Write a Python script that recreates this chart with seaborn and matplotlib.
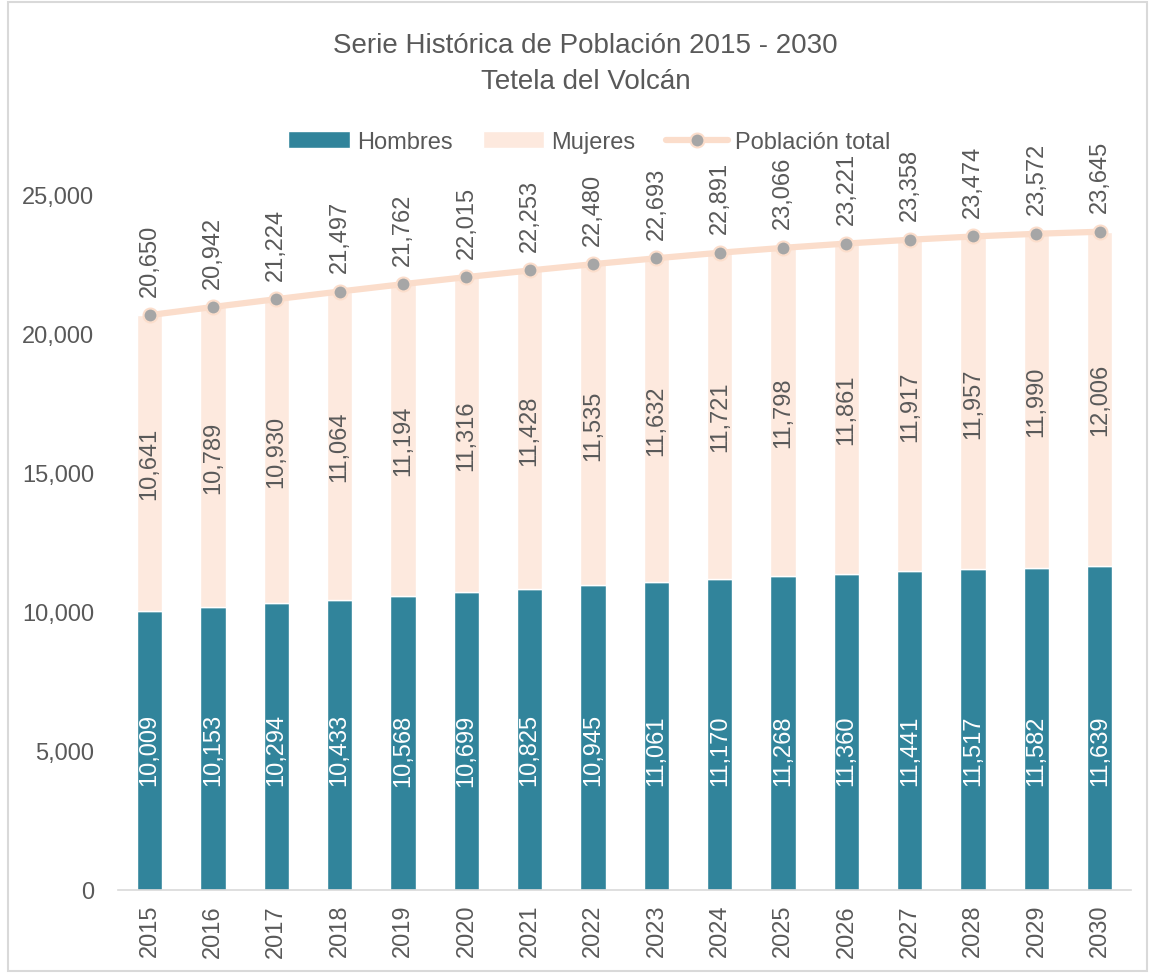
import matplotlib
matplotlib.use("Agg")
import matplotlib.pyplot as plt
import numpy as np
import pandas as pd
import seaborn as sns
from matplotlib.patches import Rectangle

# ─── Data ──────────────────────────────────────────────────────
years = [str(y) for y in range(2015, 2031)]
hombres = [10009, 10153, 10294, 10433, 10568, 10699, 10825, 10945,
           11061, 11170, 11268, 11360, 11441, 11517, 11582, 11639]
mujeres = [10641, 10789, 10930, 11064, 11194, 11316, 11428, 11535,
           11632, 11721, 11798, 11861, 11917, 11957, 11990, 12006]
total = [20650, 20942, 21224, 21497, 21762, 22015, 22253, 22480,
         22693, 22891, 23066, 23221, 23358, 23474, 23572, 23645]

TEAL = "#31849B"
PEACH = "#FDE9DE"
LINE = "#FBDDCB"
TXT = "#595959"

sns.set_theme(style="white")
plt.rcParams["font.family"] = ["Liberation Sans Narrow", "Liberation Sans", "DejaVu Sans"]

df = pd.DataFrame({"year": years, "Hombres": hombres, "Mujeres": mujeres, "total": total})

fig = plt.figure(figsize=(11.5, 9.79), dpi=100)
ax = fig.add_axes([0.1026, 0.0899, 0.8813, 0.7109])

sns.barplot(data=df, x="year", y="Hombres", color=TEAL, width=0.4,
            saturation=1, ax=ax, label="Hombres")
sns.barplot(data=df, x="year", y="Mujeres", color=PEACH, width=0.4,
            saturation=1, ax=ax, bottom=df["Hombres"], label="Mujeres")
xs = np.arange(len(years))
ax.plot(xs, total, color=LINE, lw=4.5, marker="o", markersize=10,
        markerfacecolor="#A6A6A6", markeredgecolor=LINE, markeredgewidth=1.5,
        label="Población total", clip_on=False, zorder=5)

# ─── Data labels ───────────────────────────────────────────────
for i in range(len(years)):
    ax.text(i, 5050, f"{hombres[i]:,}", rotation=90, ha="center", va="center",
            color="white", fontsize=17)
    ax.text(i, hombres[i] + mujeres[i] / 2, f"{mujeres[i]:,}", rotation=90,
            ha="center", va="center", color=TXT, fontsize=17)
    ax.annotate(f"{total[i]:,}", (i, total[i]), xytext=(0, 14),
                textcoords="offset points", rotation=90, ha="center",
                va="bottom", color=TXT, fontsize=17, annotation_clip=False)

# ─── Axes styling ──────────────────────────────────────────────
ax.set_xlim(-0.5, len(years) - 0.5)
ax.set_ylim(0, 25000)
ax.set_yticks(range(0, 25001, 5000))
ax.set_yticklabels([f"{v:,}" for v in range(0, 25001, 5000)])
ax.set_xlabel("")
ax.set_ylabel("")
for s in ["top", "right", "left"]:
    ax.spines[s].set_visible(False)
ax.spines["bottom"].set_color("#D9D9D9")
ax.spines["bottom"].set_linewidth(1.2)
ax.tick_params(axis="both", length=0, labelsize=17, colors=TXT)
ax.tick_params(axis="y", pad=17)
ax.tick_params(axis="x", pad=10)
for lbl in ax.get_xticklabels():
    lbl.set_rotation(90)

fig.text(0.509, 0.953, "Serie Histórica de Población 2015 - 2030", ha="center",
         va="center", fontsize=20, color=TXT)
fig.text(0.509, 0.916, "Tetela del Volcán", ha="center", va="center",
         fontsize=20, color=TXT)

handles, labels = ax.get_legend_handles_labels()
order = [labels.index(n) for n in ["Hombres", "Mujeres", "Población total"]]
ax.legend([handles[k] for k in order], [labels[k] for k in order],
          loc="center", bbox_to_anchor=(0.465, 1.075), ncol=3, frameon=False,
          fontsize=17, labelcolor=TXT, handlelength=2.6, columnspacing=1.3,
          handletextpad=0.3)

fig.patches.append(Rectangle((0.007, 0.007), 0.99, 0.99, transform=fig.transFigure,
                             fill=False, edgecolor="#D9D9D9", lw=1.5))

fig.savefig("out.png", dpi=100)
